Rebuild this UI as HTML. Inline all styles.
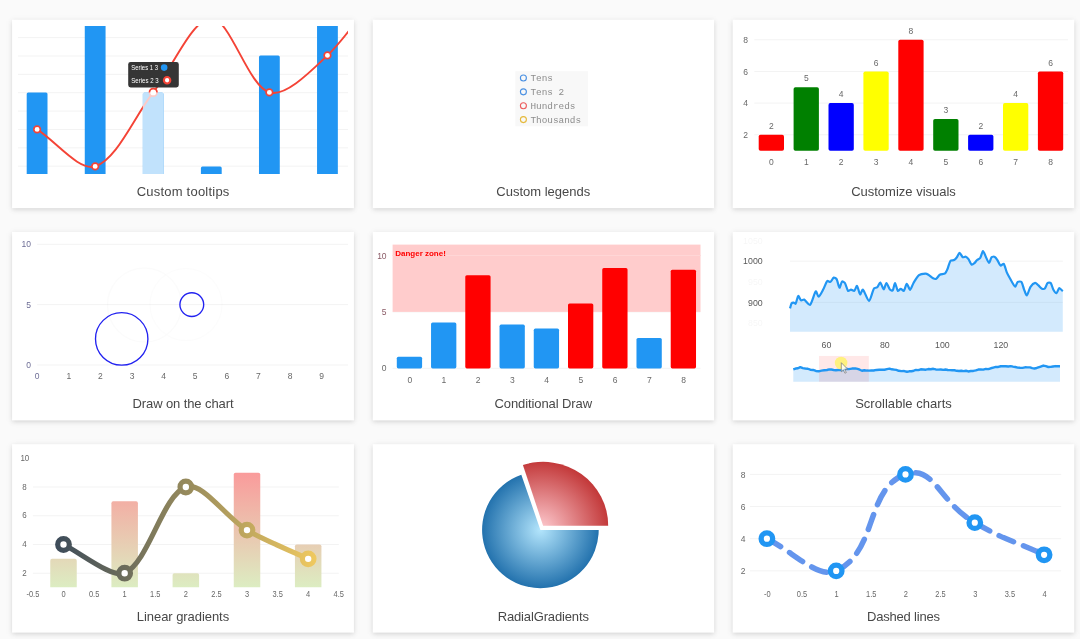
<!DOCTYPE html>
<html lang="en"><head><meta charset="utf-8"><title>Charts</title>
<style>
html,body{margin:0;padding:0}
body{width:1080px;height:639px;overflow:hidden;background:#fafafa;position:relative;font-family:"Liberation Sans",sans-serif}
svg{position:absolute;left:0;top:0;display:block;will-change:transform}
svg text{font-family:"Liberation Sans",sans-serif}
svg text.mono{font-family:"Liberation Mono",monospace}
</style></head><body>
<svg width="1080" height="639" viewBox="0 0 1080 639"><defs><filter id="sh" x="-5%" y="-10%" width="110%" height="125%"><feGaussianBlur stdDeviation="1.9"/></filter><filter id="sh2" x="-6%" y="-12%" width="112%" height="130%"><feGaussianBlur stdDeviation="3.6"/></filter><clipPath id="c1"><rect x="18" y="26" width="330" height="148"/></clipPath><linearGradient id="g7b" gradientUnits="userSpaceOnUse" x1="0" y1="452" x2="0" y2="587.6"><stop offset="0" stop-color="rgb(255,140,148)"/><stop offset="1" stop-color="rgb(220,237,194)"/></linearGradient><linearGradient id="g7l" gradientUnits="userSpaceOnUse" x1="32.9" y1="0" x2="338.8" y2="0"><stop offset="0" stop-color="rgb(45,64,89)"/><stop offset="1" stop-color="rgb(255,212,96)"/></linearGradient><radialGradient id="g8b" gradientUnits="userSpaceOnUse" cx="540.4" cy="529.9" r="72"><stop offset="0" stop-color="rgb(179,229,252)"/><stop offset="1" stop-color="rgb(1,87,155)"/></radialGradient><radialGradient id="g8r" gradientUnits="userSpaceOnUse" cx="540.4" cy="529.9" r="82"><stop offset="0" stop-color="rgb(255,205,210)"/><stop offset="1" stop-color="rgb(183,28,28)"/></radialGradient></defs>
<g><rect x="12.1" y="20.9" width="341.8" height="188.4" fill="#000" fill-opacity="0.05" filter="url(#sh2)"/>
<rect x="12.1" y="21.3" width="341.8" height="188.4" fill="#000" fill-opacity="0.105" filter="url(#sh)"/>
<rect x="12.1" y="19.7" width="341.8" height="188.4" fill="#fff"/>
<text class="t" x="183.11" y="196" text-anchor="middle" font-size="13" fill="#484848" letter-spacing="0.223">Custom tooltips</text>
<rect x="372.8" y="20.9" width="341.3" height="188.4" fill="#000" fill-opacity="0.05" filter="url(#sh2)"/>
<rect x="372.8" y="21.3" width="341.3" height="188.4" fill="#000" fill-opacity="0.105" filter="url(#sh)"/>
<rect x="372.8" y="19.7" width="341.3" height="188.4" fill="#fff"/>
<text class="t" x="543.3" y="196" text-anchor="middle" font-size="13" fill="#484848" letter-spacing="0.006">Custom legends</text>
<rect x="732.7" y="20.9" width="341.5" height="188.4" fill="#000" fill-opacity="0.05" filter="url(#sh2)"/>
<rect x="732.7" y="21.3" width="341.5" height="188.4" fill="#000" fill-opacity="0.105" filter="url(#sh)"/>
<rect x="732.7" y="19.7" width="341.5" height="188.4" fill="#fff"/>
<text class="t" x="903.5" y="196" text-anchor="middle" font-size="13" fill="#484848" letter-spacing="-0.003">Customize visuals</text>
<rect x="12.1" y="233.15" width="341.8" height="188.4" fill="#000" fill-opacity="0.05" filter="url(#sh2)"/>
<rect x="12.1" y="233.55" width="341.8" height="188.4" fill="#000" fill-opacity="0.105" filter="url(#sh)"/>
<rect x="12.1" y="231.95" width="341.8" height="188.4" fill="#fff"/>
<text class="t" x="182.95" y="408.1" text-anchor="middle" font-size="13" fill="#484848" letter-spacing="-0.099">Draw on the chart</text>
<rect x="372.8" y="233.15" width="341.3" height="188.4" fill="#000" fill-opacity="0.05" filter="url(#sh2)"/>
<rect x="372.8" y="233.55" width="341.3" height="188.4" fill="#000" fill-opacity="0.105" filter="url(#sh)"/>
<rect x="372.8" y="231.95" width="341.3" height="188.4" fill="#fff"/>
<text class="t" x="543.26" y="408.1" text-anchor="middle" font-size="13" fill="#484848" letter-spacing="-0.086">Conditional Draw</text>
<rect x="732.7" y="233.15" width="341.5" height="188.4" fill="#000" fill-opacity="0.05" filter="url(#sh2)"/>
<rect x="732.7" y="233.55" width="341.5" height="188.4" fill="#000" fill-opacity="0.105" filter="url(#sh)"/>
<rect x="732.7" y="231.95" width="341.5" height="188.4" fill="#fff"/>
<text class="t" x="903.52" y="408.1" text-anchor="middle" font-size="13" fill="#484848" letter-spacing="0.039">Scrollable charts</text>
<rect x="12.1" y="445.4" width="341.8" height="188.4" fill="#000" fill-opacity="0.05" filter="url(#sh2)"/>
<rect x="12.1" y="445.8" width="341.8" height="188.4" fill="#000" fill-opacity="0.105" filter="url(#sh)"/>
<rect x="12.1" y="444.2" width="341.8" height="188.4" fill="#fff"/>
<text class="t" x="182.97" y="621" text-anchor="middle" font-size="13" fill="#484848" letter-spacing="-0.061">Linear gradients</text>
<rect x="372.8" y="445.4" width="341.3" height="188.4" fill="#000" fill-opacity="0.05" filter="url(#sh2)"/>
<rect x="372.8" y="445.8" width="341.3" height="188.4" fill="#000" fill-opacity="0.105" filter="url(#sh)"/>
<rect x="372.8" y="444.2" width="341.3" height="188.4" fill="#fff"/>
<text class="t" x="543.23" y="621" text-anchor="middle" font-size="13" fill="#484848" letter-spacing="-0.136">RadialGradients</text>
<rect x="732.7" y="445.4" width="341.5" height="188.4" fill="#000" fill-opacity="0.05" filter="url(#sh2)"/>
<rect x="732.7" y="445.8" width="341.5" height="188.4" fill="#000" fill-opacity="0.105" filter="url(#sh)"/>
<rect x="732.7" y="444.2" width="341.5" height="188.4" fill="#fff"/>
<text class="t" x="903.4" y="621" text-anchor="middle" font-size="13" fill="#484848" letter-spacing="-0.195">Dashed lines</text></g>
<g><line x1="18" x2="348" y1="166.2" y2="166.2" stroke="#f3f3f3" stroke-width="1"/><line x1="18" x2="348" y1="147.83" y2="147.83" stroke="#f3f3f3" stroke-width="1"/><line x1="18" x2="348" y1="129.46" y2="129.46" stroke="#f3f3f3" stroke-width="1"/><line x1="18" x2="348" y1="111.09" y2="111.09" stroke="#f3f3f3" stroke-width="1"/><line x1="18" x2="348" y1="92.72" y2="92.72" stroke="#f3f3f3" stroke-width="1"/><line x1="18" x2="348" y1="74.35" y2="74.35" stroke="#f3f3f3" stroke-width="1"/><line x1="18" x2="348" y1="55.98" y2="55.98" stroke="#f3f3f3" stroke-width="1"/><line x1="18" x2="348" y1="37.61" y2="37.61" stroke="#f3f3f3" stroke-width="1"/><g clip-path="url(#c1)"><rect x="26.7" y="92.4" width="20.8" height="83.6" rx="1.5" fill="#2196f3" /><rect x="84.77" y="-55.6" width="20.8" height="231.6" rx="1.5" fill="#2196f3" /><rect x="142.84" y="92.4" width="20.8" height="83.6" rx="1.5" fill="#2196f3" /><rect x="200.91" y="166.4" width="20.8" height="9.6" rx="1.5" fill="#2196f3" /><rect x="258.98" y="55.4" width="20.8" height="120.6" rx="1.5" fill="#2196f3" /><rect x="317.05" y="-55.6" width="20.8" height="231.6" rx="1.5" fill="#2196f3" /><path d="M37.1 129.4C55.97 141.43 79.22 171.48 95.17 166.4C116.96 159.46 134.37 116.45 153.24 92.4C172.11 68.35 192.44 18.4 211.31 18.4C230.18 18.4 247.59 85.46 269.38 92.4C285.33 97.48 311.5 70.65 327.45 55.4C349.24 34.57 366.65 5.45 385.52 -18.6" fill="none" stroke="#f44336" stroke-width="1.9"/><circle cx="37.1" cy="129.4" r="3.3" fill="#fff" stroke="#f44336" stroke-width="1.7"/><circle cx="95.17" cy="166.4" r="3.3" fill="#fff" stroke="#f44336" stroke-width="1.7"/><circle cx="153.24" cy="92.4" r="3.8" fill="#fff" stroke="#f44336" stroke-width="1.7"/><circle cx="211.31" cy="18.4" r="3.3" fill="#fff" stroke="#f44336" stroke-width="1.7"/><circle cx="269.38" cy="92.4" r="3.3" fill="#fff" stroke="#f44336" stroke-width="1.7"/><circle cx="327.45" cy="55.4" r="3.3" fill="#fff" stroke="#f44336" stroke-width="1.7"/><circle cx="385.52" cy="-18.6" r="3.3" fill="#fff" stroke="#f44336" stroke-width="1.7"/><rect x="142.84" y="92.4" width="20.8" height="90" fill="#fff" fill-opacity="0.72"/></g><rect x="128.2" y="62" width="50.6" height="25.4" rx="2.4" fill="#353535"/><text x="131.3" y="70.1" font-size="6.7" fill="#fff" text-anchor="start" textLength="26.7" lengthAdjust="spacingAndGlyphs">Series 1 3</text><text x="131.3" y="82.9" font-size="6.7" fill="#fff" text-anchor="start" textLength="27.4" lengthAdjust="spacingAndGlyphs">Series 2 3</text><circle cx="164.15" cy="67.6" r="3.3" fill="#2196f3"/><circle cx="167.1" cy="80.25" r="3.2" fill="#fff" stroke="#f44336" stroke-width="2.1"/></g>
<g><rect x="515.3" y="71.2" width="72.7" height="55.1" fill="#f8f8f8"/><circle cx="523.4" cy="78" r="3" fill="none" stroke="#4a90e2" stroke-width="1.1"/><text x="530.4" y="81" class="mono" font-size="9.4" fill="#8c8c8c" xml:space="preserve">Tens</text><circle cx="523.4" cy="91.87" r="3" fill="none" stroke="#4a90e2" stroke-width="1.1"/><text x="530.4" y="94.87" class="mono" font-size="9.4" fill="#8c8c8c" xml:space="preserve">Tens 2</text><circle cx="523.4" cy="105.74" r="3" fill="none" stroke="#ec5b5b" stroke-width="1.1"/><text x="530.4" y="108.74" class="mono" font-size="9.4" fill="#8c8c8c" xml:space="preserve">Hundreds</text><circle cx="523.4" cy="119.61" r="3" fill="none" stroke="#e5b93a" stroke-width="1.1"/><text x="530.4" y="122.61" class="mono" font-size="9.4" fill="#8c8c8c" xml:space="preserve">Thousands</text></g>
<g><line x1="754.3" x2="1068" y1="39.8" y2="39.8" stroke="#f3f3f3" stroke-width="1"/><text x="745.7" y="42.9" font-size="8.5" fill="#686868" text-anchor="middle" >8</text><line x1="754.3" x2="1068" y1="71.46" y2="71.46" stroke="#f3f3f3" stroke-width="1"/><text x="745.7" y="74.56" font-size="8.5" fill="#686868" text-anchor="middle" >6</text><line x1="754.3" x2="1068" y1="103.12" y2="103.12" stroke="#f3f3f3" stroke-width="1"/><text x="745.7" y="106.22" font-size="8.5" fill="#686868" text-anchor="middle" >4</text><line x1="754.3" x2="1068" y1="134.78" y2="134.78" stroke="#f3f3f3" stroke-width="1"/><text x="745.7" y="137.88" font-size="8.5" fill="#686868" text-anchor="middle" >2</text><rect x="758.7" y="134.78" width="25.3" height="15.92" rx="1.8" fill="#ff0000" /><text x="771.35" y="128.98" font-size="8.5" fill="#686868" text-anchor="middle" >2</text><text x="771.35" y="165" font-size="8.5" fill="#686868" text-anchor="middle" >0</text><rect x="793.6" y="87.29" width="25.3" height="63.41" rx="1.8" fill="#008000" /><text x="806.25" y="81.49" font-size="8.5" fill="#686868" text-anchor="middle" >5</text><text x="806.25" y="165" font-size="8.5" fill="#686868" text-anchor="middle" >1</text><rect x="828.5" y="103.12" width="25.3" height="47.58" rx="1.8" fill="#0000ff" /><text x="841.15" y="97.32" font-size="8.5" fill="#686868" text-anchor="middle" >4</text><text x="841.15" y="165" font-size="8.5" fill="#686868" text-anchor="middle" >2</text><rect x="863.4" y="71.46" width="25.3" height="79.24" rx="1.8" fill="#ffff00" /><text x="876.05" y="65.66" font-size="8.5" fill="#686868" text-anchor="middle" >6</text><text x="876.05" y="165" font-size="8.5" fill="#686868" text-anchor="middle" >3</text><rect x="898.3" y="39.8" width="25.3" height="110.9" rx="1.8" fill="#ff0000" /><text x="910.95" y="34" font-size="8.5" fill="#686868" text-anchor="middle" >8</text><text x="910.95" y="165" font-size="8.5" fill="#686868" text-anchor="middle" >4</text><rect x="933.2" y="118.95" width="25.3" height="31.75" rx="1.8" fill="#008000" /><text x="945.85" y="113.15" font-size="8.5" fill="#686868" text-anchor="middle" >3</text><text x="945.85" y="165" font-size="8.5" fill="#686868" text-anchor="middle" >5</text><rect x="968.1" y="134.78" width="25.3" height="15.92" rx="1.8" fill="#0000ff" /><text x="980.75" y="128.98" font-size="8.5" fill="#686868" text-anchor="middle" >2</text><text x="980.75" y="165" font-size="8.5" fill="#686868" text-anchor="middle" >6</text><rect x="1003" y="103.12" width="25.3" height="47.58" rx="1.8" fill="#ffff00" /><text x="1015.65" y="97.32" font-size="8.5" fill="#686868" text-anchor="middle" >4</text><text x="1015.65" y="165" font-size="8.5" fill="#686868" text-anchor="middle" >7</text><rect x="1037.9" y="71.46" width="25.3" height="79.24" rx="1.8" fill="#ff0000" /><text x="1050.55" y="65.66" font-size="8.5" fill="#686868" text-anchor="middle" >6</text><text x="1050.55" y="165" font-size="8.5" fill="#686868" text-anchor="middle" >8</text></g>
<g><line x1="37.1" x2="348" y1="244.3" y2="244.3" stroke="#f3f3f3" stroke-width="1"/><text x="30.9" y="247.4" font-size="8.5" fill="#6e6e96" text-anchor="end" >10</text><line x1="37.1" x2="348" y1="304.65" y2="304.65" stroke="#f3f3f3" stroke-width="1"/><text x="30.9" y="307.75" font-size="8.5" fill="#6e6e96" text-anchor="end" >5</text><line x1="37.1" x2="348" y1="365" y2="365" stroke="#f3f3f3" stroke-width="1"/><text x="30.9" y="368.1" font-size="8.5" fill="#6e6e96" text-anchor="end" >0</text><text x="37.2" y="379.2" font-size="8.5" fill="#6e6e96" text-anchor="middle" >0</text><text x="68.8" y="379.2" font-size="8.5" fill="#686868" text-anchor="middle" >1</text><text x="100.4" y="379.2" font-size="8.5" fill="#686868" text-anchor="middle" >2</text><text x="132" y="379.2" font-size="8.5" fill="#686868" text-anchor="middle" >3</text><text x="163.6" y="379.2" font-size="8.5" fill="#686868" text-anchor="middle" >4</text><text x="195.2" y="379.2" font-size="8.5" fill="#686868" text-anchor="middle" >5</text><text x="226.8" y="379.2" font-size="8.5" fill="#686868" text-anchor="middle" >6</text><text x="258.4" y="379.2" font-size="8.5" fill="#686868" text-anchor="middle" >7</text><text x="290" y="379.2" font-size="8.5" fill="#686868" text-anchor="middle" >8</text><text x="321.6" y="379.2" font-size="8.5" fill="#686868" text-anchor="middle" >9</text><circle cx="144.5" cy="305" r="37" fill="none" stroke="#000" stroke-opacity="0.015" stroke-width="1.5"/><circle cx="186" cy="304.5" r="36" fill="none" stroke="#000" stroke-opacity="0.012" stroke-width="1.5"/><circle cx="121.7" cy="338.9" r="26.2" fill="none" stroke="#2222f0" stroke-width="1.35"/><circle cx="191.8" cy="304.6" r="11.9" fill="none" stroke="#2222f0" stroke-width="1.35"/></g>
<g><line x1="392.6" x2="700.5" y1="255.5" y2="255.5" stroke="#f3f3f3" stroke-width="1"/><line x1="392.6" x2="700.5" y1="311.9" y2="311.9" stroke="#f3f3f3" stroke-width="1"/><line x1="392.6" x2="700.5" y1="368.3" y2="368.3" stroke="#f3f3f3" stroke-width="1"/><rect x="392.6" y="244.6" width="307.9" height="67.3" fill="#ffcccc"/><line x1="392.6" x2="700.5" y1="255.5" y2="255.5" stroke="#ffd6d6" stroke-width="1"/><text x="386.6" y="258.6" font-size="8.5" fill="#8a5a66" text-anchor="end" >10</text><text x="386.6" y="315" font-size="8.5" fill="#8a5a66" text-anchor="end" >5</text><text x="386.6" y="371.4" font-size="8.5" fill="#686868" text-anchor="end" >0</text><rect x="396.8" y="356.7" width="25.3" height="11.7" rx="1.6" fill="#2196f3" /><text x="409.75" y="383" font-size="8.5" fill="#686868" text-anchor="middle" >0</text><rect x="431.04" y="322.5" width="25.3" height="45.9" rx="1.6" fill="#2196f3" /><text x="443.99" y="383" font-size="8.5" fill="#686868" text-anchor="middle" >1</text><rect x="465.28" y="275.2" width="25.3" height="93.2" rx="1.6" fill="#ff0000" /><text x="478.23" y="383" font-size="8.5" fill="#686868" text-anchor="middle" >2</text><rect x="499.52" y="324.6" width="25.3" height="43.8" rx="1.6" fill="#2196f3" /><text x="512.47" y="383" font-size="8.5" fill="#686868" text-anchor="middle" >3</text><rect x="533.76" y="328.6" width="25.3" height="39.8" rx="1.6" fill="#2196f3" /><text x="546.71" y="383" font-size="8.5" fill="#686868" text-anchor="middle" >4</text><rect x="568" y="303.4" width="25.3" height="65" rx="1.6" fill="#ff0000" /><text x="580.95" y="383" font-size="8.5" fill="#686868" text-anchor="middle" >5</text><rect x="602.24" y="268.1" width="25.3" height="100.3" rx="1.6" fill="#ff0000" /><text x="615.19" y="383" font-size="8.5" fill="#686868" text-anchor="middle" >6</text><rect x="636.48" y="337.9" width="25.3" height="30.5" rx="1.6" fill="#2196f3" /><text x="649.43" y="383" font-size="8.5" fill="#686868" text-anchor="middle" >7</text><rect x="670.72" y="269.7" width="25.3" height="98.7" rx="1.6" fill="#ff0000" /><text x="683.67" y="383" font-size="8.5" fill="#686868" text-anchor="middle" >8</text><text x="395.2" y="256.3" font-size="8" fill="#ff0000" text-anchor="start" font-weight="bold">Danger zone!</text></g>
<g><line x1="790" x2="1062.8" y1="261.2" y2="261.2" stroke="#f3f3f3" stroke-width="1"/><text x="762.7" y="264.4" font-size="8.8" fill="#585858" text-anchor="end" >1000</text><line x1="790" x2="1062.8" y1="302.3" y2="302.3" stroke="#f3f3f3" stroke-width="1"/><text x="762.7" y="305.5" font-size="8.8" fill="#585858" text-anchor="end" >900</text><text x="826.5" y="347.6" font-size="8.8" fill="#585858" text-anchor="middle" >60</text><text x="884.8" y="347.6" font-size="8.8" fill="#585858" text-anchor="middle" >80</text><text x="942.4" y="347.6" font-size="8.8" fill="#585858" text-anchor="middle" >100</text><text x="1000.9" y="347.6" font-size="8.8" fill="#585858" text-anchor="middle" >120</text><text x="762.7" y="243.9" font-size="8.8" fill="#000" text-anchor="end" fill-opacity="0.04">1050</text><text x="762.7" y="284.9" font-size="8.8" fill="#000" text-anchor="end" fill-opacity="0.04">950</text><text x="762.7" y="326" font-size="8.8" fill="#000" text-anchor="end" fill-opacity="0.04">850</text><path d="M790 308.4C790.4 307.15 790.96 304.43 791.6 303.4C791.86 302.98 793.11 302.56 793.6 302.6C794.11 302.64 795.34 304.06 795.6 303.7C796.52 302.41 797.46 296.52 798.3 296C798.83 295.67 800.19 299.74 801.1 300.3C801.64 300.64 803.48 299.28 804.1 299.6C805.7 300.43 808.98 305.62 810 304.9C811.9 303.55 814.28 292.75 815.8 291.3C816.43 290.7 817.83 296.9 818.6 296.7C819.71 296.4 822.24 291.21 823.3 289.3C824.41 287.29 825.99 282.37 827.3 281C827.76 280.52 829.8 282.22 830.4 281.9C831.42 281.37 832.82 278.04 833.8 277.6C834.37 277.34 836.23 278.45 836.6 279.1C837.66 280.97 838.71 287.36 839.5 287.7C840.09 287.96 841.18 282.3 842.1 281.5C842.53 281.12 844.49 282.36 844.9 283C845.99 284.71 846.99 289.7 848.1 290.9C848.51 291.35 850.27 289.6 851 289.6C851.79 289.6 853.64 291.25 854.2 290.9C855.14 290.32 856.42 285.57 857 285.9C857.9 286.42 859.18 293.73 860.1 294.3C860.66 294.65 862.24 289.1 862.9 289.6C864.46 290.78 867.64 301.16 869 301C870.44 300.83 872.44 291.07 874.1 288.3C874.49 287.64 876.64 287.83 877.2 287.3C878.16 286.4 879.5 282.39 880.2 282.6C881.15 282.89 882.98 289.25 883.8 289.3C884.53 289.35 885.66 282.96 886.4 283C887.21 283.04 888.85 288.25 890 289.6C890.43 290.1 892.37 290.84 892.7 290.4C893.62 289.19 894.38 282.94 895 283C895.68 283.07 896.89 289.88 897.9 290.9C898.32 291.33 899.99 288.8 900.7 288.8C901.46 288.8 903.3 291.31 903.8 290.9C904.83 290.06 905.97 283.95 906.8 283.8C907.54 283.67 909.31 289.89 910.1 289.8C910.98 289.69 912.51 284.62 913.5 283C914.74 280.97 917.25 276.6 919 275.2C920.2 274.25 923.74 273.68 925.3 273.6C926.09 273.56 927.7 274.28 928.4 274.7C929.65 275.46 931.83 277.63 933.1 278.3C933.78 278.66 935.59 279.13 936.2 278.8C937.26 278.23 938.69 275.37 939.8 274.7C940.91 274.02 944.1 274.14 945.1 273.4C946.02 272.72 947.01 270.15 947.5 269C948.36 267 949.34 262.38 950.5 260.8C950.99 260.13 953.32 260.42 954.1 260C954.87 259.59 956.16 258.21 956.7 257.5C957.53 256.41 958.84 252.84 959.6 252.8C960.34 252.76 961.72 256.58 962.7 257.2C963.27 257.56 965.13 256.48 965.8 256.7C966.58 256.95 967.97 258.38 968.5 259.1C969.42 260.36 970.61 263.91 971.6 264.6C972.09 264.94 973.81 263.69 974.4 263.2C975.19 262.54 976.33 260.69 977.1 260C977.78 259.39 979.72 258.74 980.2 258C981.19 256.49 982.24 251.1 983 251C983.69 250.9 985.22 255.67 986 257.2C986.74 258.67 988.39 263 989.1 263C989.79 263 990.66 258.21 991.6 257.2C992.08 256.69 994.16 256.58 994.8 256.9C995.61 257.31 996.83 259.24 997.4 260.1C998.28 261.42 999.59 265.01 1000.6 265.6C1001.17 265.93 1003.26 263.32 1003.7 263.8C1004.81 265.02 1005.9 270.3 1006.8 272.4C1007.45 273.93 1009.06 276.86 1009.9 278.3C1011.13 280.41 1013.83 286.02 1015.1 286.6C1015.8 286.92 1016.85 282.61 1017.8 281.9C1018.43 281.43 1020.91 281.32 1021.4 281.9C1022.46 283.17 1023.27 287.48 1024 289.3C1024.62 290.86 1026.12 295.66 1026.8 295.4C1027.75 295.04 1029.23 288.7 1030.5 286.8C1031.33 285.55 1034.01 283.01 1035.2 282.8C1036.01 282.66 1037.71 284.71 1038.5 285.4C1039.41 286.21 1041 288.31 1042 288.8C1042.58 289.08 1044.36 288.95 1044.8 288.5C1045.76 287.5 1046.62 283.92 1047.6 283C1048.09 282.54 1050.27 282.49 1050.7 283C1051.72 284.19 1052.51 288.23 1053.4 289.8C1053.96 290.78 1055.85 293.4 1056.5 293.2C1057.33 292.95 1058.43 288.26 1059.3 288C1060.01 287.79 1061.92 290.48 1062.8 291.3L1062.8 331.7L790 331.7Z" fill="#2196f3" fill-opacity="0.2"/><path d="M790 308.4C790.4 307.15 790.96 304.43 791.6 303.4C791.86 302.98 793.11 302.56 793.6 302.6C794.11 302.64 795.34 304.06 795.6 303.7C796.52 302.41 797.46 296.52 798.3 296C798.83 295.67 800.19 299.74 801.1 300.3C801.64 300.64 803.48 299.28 804.1 299.6C805.7 300.43 808.98 305.62 810 304.9C811.9 303.55 814.28 292.75 815.8 291.3C816.43 290.7 817.83 296.9 818.6 296.7C819.71 296.4 822.24 291.21 823.3 289.3C824.41 287.29 825.99 282.37 827.3 281C827.76 280.52 829.8 282.22 830.4 281.9C831.42 281.37 832.82 278.04 833.8 277.6C834.37 277.34 836.23 278.45 836.6 279.1C837.66 280.97 838.71 287.36 839.5 287.7C840.09 287.96 841.18 282.3 842.1 281.5C842.53 281.12 844.49 282.36 844.9 283C845.99 284.71 846.99 289.7 848.1 290.9C848.51 291.35 850.27 289.6 851 289.6C851.79 289.6 853.64 291.25 854.2 290.9C855.14 290.32 856.42 285.57 857 285.9C857.9 286.42 859.18 293.73 860.1 294.3C860.66 294.65 862.24 289.1 862.9 289.6C864.46 290.78 867.64 301.16 869 301C870.44 300.83 872.44 291.07 874.1 288.3C874.49 287.64 876.64 287.83 877.2 287.3C878.16 286.4 879.5 282.39 880.2 282.6C881.15 282.89 882.98 289.25 883.8 289.3C884.53 289.35 885.66 282.96 886.4 283C887.21 283.04 888.85 288.25 890 289.6C890.43 290.1 892.37 290.84 892.7 290.4C893.62 289.19 894.38 282.94 895 283C895.68 283.07 896.89 289.88 897.9 290.9C898.32 291.33 899.99 288.8 900.7 288.8C901.46 288.8 903.3 291.31 903.8 290.9C904.83 290.06 905.97 283.95 906.8 283.8C907.54 283.67 909.31 289.89 910.1 289.8C910.98 289.69 912.51 284.62 913.5 283C914.74 280.97 917.25 276.6 919 275.2C920.2 274.25 923.74 273.68 925.3 273.6C926.09 273.56 927.7 274.28 928.4 274.7C929.65 275.46 931.83 277.63 933.1 278.3C933.78 278.66 935.59 279.13 936.2 278.8C937.26 278.23 938.69 275.37 939.8 274.7C940.91 274.02 944.1 274.14 945.1 273.4C946.02 272.72 947.01 270.15 947.5 269C948.36 267 949.34 262.38 950.5 260.8C950.99 260.13 953.32 260.42 954.1 260C954.87 259.59 956.16 258.21 956.7 257.5C957.53 256.41 958.84 252.84 959.6 252.8C960.34 252.76 961.72 256.58 962.7 257.2C963.27 257.56 965.13 256.48 965.8 256.7C966.58 256.95 967.97 258.38 968.5 259.1C969.42 260.36 970.61 263.91 971.6 264.6C972.09 264.94 973.81 263.69 974.4 263.2C975.19 262.54 976.33 260.69 977.1 260C977.78 259.39 979.72 258.74 980.2 258C981.19 256.49 982.24 251.1 983 251C983.69 250.9 985.22 255.67 986 257.2C986.74 258.67 988.39 263 989.1 263C989.79 263 990.66 258.21 991.6 257.2C992.08 256.69 994.16 256.58 994.8 256.9C995.61 257.31 996.83 259.24 997.4 260.1C998.28 261.42 999.59 265.01 1000.6 265.6C1001.17 265.93 1003.26 263.32 1003.7 263.8C1004.81 265.02 1005.9 270.3 1006.8 272.4C1007.45 273.93 1009.06 276.86 1009.9 278.3C1011.13 280.41 1013.83 286.02 1015.1 286.6C1015.8 286.92 1016.85 282.61 1017.8 281.9C1018.43 281.43 1020.91 281.32 1021.4 281.9C1022.46 283.17 1023.27 287.48 1024 289.3C1024.62 290.86 1026.12 295.66 1026.8 295.4C1027.75 295.04 1029.23 288.7 1030.5 286.8C1031.33 285.55 1034.01 283.01 1035.2 282.8C1036.01 282.66 1037.71 284.71 1038.5 285.4C1039.41 286.21 1041 288.31 1042 288.8C1042.58 289.08 1044.36 288.95 1044.8 288.5C1045.76 287.5 1046.62 283.92 1047.6 283C1048.09 282.54 1050.27 282.49 1050.7 283C1051.72 284.19 1052.51 288.23 1053.4 289.8C1053.96 290.78 1055.85 293.4 1056.5 293.2C1057.33 292.95 1058.43 288.26 1059.3 288C1060.01 287.79 1061.92 290.48 1062.8 291.3" fill="none" stroke="#2196f3" stroke-width="2.2" stroke-linejoin="round"/><path d="M793.3 369.34L795.63 368.52L797.97 368.3L800.3 367.12L802.8 368.08L805.3 368.48L807.8 368.75L810.3 369.71L813.1 369.95L815.9 370.97L818.7 371.31L821.47 370.66L824.23 370.3L827 369.99L829.22 369.41L831.43 369.55L833.65 369.96L835.87 370.3L838.08 370.02L840.3 369.91L843.1 370.03L845.9 368.79L848.7 369.12L852 368.56L855.3 368.38L857.53 368.96L859.77 369.73L862 370.78L864.34 370.21L866.68 370.57L869.02 370.63L871.36 370.39L873.7 370.54L876.47 369.94L879.23 369.77L882 369.74L884.5 369.76L887 369.13L889.5 368.63L891.8 369.3L894.1 369.61L896.4 369.89L898.7 370.76L901.47 371.08L904.23 371.07L907 371.77L909.26 371.32L911.52 371.24L913.78 370.71L916.04 369.91L918.3 370.13L920.8 369.27L923.3 369.46L925.8 369.68L928.3 369.05L930.8 369.27L933.3 368.79L935.8 369.43L938.3 369.59L940.8 369.49L943.3 369.84L945.53 369.5L947.77 370.01L950 370.08L952.23 370.24L954.47 370.29L956.7 370.81L959.02 371.06L961.34 370.8L963.66 371.13L965.98 370.74L968.3 371.48L970.8 371.03L973.3 370.94L975.8 370.39L978.3 369.51L980.8 369.47L983.3 369.6L985.8 368.9L988.3 369.17L990.8 368.28L993.3 367.61L995.8 366.93L998.3 366.94L1000.8 366.24L1003.3 366.22L1005.8 366.23L1008.3 366.53L1010.64 366.08L1012.98 366.67L1015.32 367.02L1017.66 367.59L1020 367.79L1022.5 367.83L1025 367.3L1027.5 367.42L1030 367.37L1032.23 368.11L1034.47 368.45L1036.7 367.99L1040 366.76L1043.3 365.56L1045.8 366.16L1048.3 366.99L1050.64 366.92L1052.98 366.47L1055.32 366.07L1057.66 366.29L1060 366.2L1060 381.7L793.3 381.7Z" fill="#2196f3" fill-opacity="0.2"/><rect x="819" y="355.95" width="49.85" height="25.8" fill="#ff0000" fill-opacity="0.09"/><path d="M793.3 369.34L795.63 368.52L797.97 368.3L800.3 367.12L802.8 368.08L805.3 368.48L807.8 368.75L810.3 369.71L813.1 369.95L815.9 370.97L818.7 371.31L821.47 370.66L824.23 370.3L827 369.99L829.22 369.41L831.43 369.55L833.65 369.96L835.87 370.3L838.08 370.02L840.3 369.91L843.1 370.03L845.9 368.79L848.7 369.12L852 368.56L855.3 368.38L857.53 368.96L859.77 369.73L862 370.78L864.34 370.21L866.68 370.57L869.02 370.63L871.36 370.39L873.7 370.54L876.47 369.94L879.23 369.77L882 369.74L884.5 369.76L887 369.13L889.5 368.63L891.8 369.3L894.1 369.61L896.4 369.89L898.7 370.76L901.47 371.08L904.23 371.07L907 371.77L909.26 371.32L911.52 371.24L913.78 370.71L916.04 369.91L918.3 370.13L920.8 369.27L923.3 369.46L925.8 369.68L928.3 369.05L930.8 369.27L933.3 368.79L935.8 369.43L938.3 369.59L940.8 369.49L943.3 369.84L945.53 369.5L947.77 370.01L950 370.08L952.23 370.24L954.47 370.29L956.7 370.81L959.02 371.06L961.34 370.8L963.66 371.13L965.98 370.74L968.3 371.48L970.8 371.03L973.3 370.94L975.8 370.39L978.3 369.51L980.8 369.47L983.3 369.6L985.8 368.9L988.3 369.17L990.8 368.28L993.3 367.61L995.8 366.93L998.3 366.94L1000.8 366.24L1003.3 366.22L1005.8 366.23L1008.3 366.53L1010.64 366.08L1012.98 366.67L1015.32 367.02L1017.66 367.59L1020 367.79L1022.5 367.83L1025 367.3L1027.5 367.42L1030 367.37L1032.23 368.11L1034.47 368.45L1036.7 367.99L1040 366.76L1043.3 365.56L1045.8 366.16L1048.3 366.99L1050.64 366.92L1052.98 366.47L1055.32 366.07L1057.66 366.29L1060 366.2" fill="none" stroke="#2196f3" stroke-width="2.4" stroke-linejoin="round"/><circle cx="841.1" cy="362.95" r="6.3" fill="#fff07a" fill-opacity="0.96"/><path d="M841.3 362.7v9.1l2.1-1.9 1.5 3.3 1.4-.6-1.5-3.3h2.9z" fill="#fff" fill-opacity="0.8" stroke="#777" stroke-width="0.7" stroke-linejoin="round"/></g>
<g><line x1="32.9" x2="338.8" y1="487" y2="487" stroke="#f3f3f3" stroke-width="1"/><line x1="32.9" x2="338.8" y1="515.74" y2="515.74" stroke="#f3f3f3" stroke-width="1"/><line x1="32.9" x2="338.8" y1="544.48" y2="544.48" stroke="#f3f3f3" stroke-width="1"/><line x1="32.9" x2="338.8" y1="573.22" y2="573.22" stroke="#f3f3f3" stroke-width="1"/><text transform="translate(29.3 460.96) scale(0.93 1)" font-size="8.6" fill="#686868" text-anchor="end">10</text><text transform="translate(26.7 489.7) scale(0.93 1)" font-size="8.6" fill="#686868" text-anchor="end">8</text><text transform="translate(26.7 518.44) scale(0.93 1)" font-size="8.6" fill="#686868" text-anchor="end">6</text><text transform="translate(26.7 547.18) scale(0.93 1)" font-size="8.6" fill="#686868" text-anchor="end">4</text><text transform="translate(26.7 575.92) scale(0.93 1)" font-size="8.6" fill="#686868" text-anchor="end">2</text><path d="M50.25 587.3V560.65Q50.25 558.85 52.05 558.85H74.95Q76.75 558.85 76.75 560.65V587.3Z" fill="url(#g7b)" /><path d="M111.42 587.3V503.17Q111.42 501.37 113.22 501.37H136.12Q137.92 501.37 137.92 503.17V587.3Z" fill="url(#g7b)" /><path d="M172.59 587.3V575.02Q172.59 573.22 174.39 573.22H197.29Q199.09 573.22 199.09 575.02V587.3Z" fill="url(#g7b)" /><path d="M233.76 587.3V474.43Q233.76 472.63 235.56 472.63H258.46Q260.26 472.63 260.26 474.43V587.3Z" fill="url(#g7b)" /><path d="M294.93 587.3V546.28Q294.93 544.48 296.73 544.48H319.63Q321.43 544.48 321.43 546.28V587.3Z" fill="url(#g7b)" /><text transform="translate(32.91 597.3) scale(0.88 1)" font-size="8.5" fill="#686868" text-anchor="middle">-0.5</text><text transform="translate(63.5 597.3) scale(0.88 1)" font-size="8.5" fill="#686868" text-anchor="middle">0</text><text transform="translate(94.09 597.3) scale(0.88 1)" font-size="8.5" fill="#686868" text-anchor="middle">0.5</text><text transform="translate(124.67 597.3) scale(0.88 1)" font-size="8.5" fill="#686868" text-anchor="middle">1</text><text transform="translate(155.25 597.3) scale(0.88 1)" font-size="8.5" fill="#686868" text-anchor="middle">1.5</text><text transform="translate(185.84 597.3) scale(0.88 1)" font-size="8.5" fill="#686868" text-anchor="middle">2</text><text transform="translate(216.43 597.3) scale(0.88 1)" font-size="8.5" fill="#686868" text-anchor="middle">2.5</text><text transform="translate(247.01 597.3) scale(0.88 1)" font-size="8.5" fill="#686868" text-anchor="middle">3</text><text transform="translate(277.6 597.3) scale(0.88 1)" font-size="8.5" fill="#686868" text-anchor="middle">3.5</text><text transform="translate(308.18 597.3) scale(0.88 1)" font-size="8.5" fill="#686868" text-anchor="middle">4</text><text transform="translate(338.76 597.3) scale(0.88 1)" font-size="8.5" fill="#686868" text-anchor="middle">4.5</text><path d="M63.5 544.48C78.79 551.66 112.74 578.82 124.67 573.22C148.92 561.82 162.56 495.2 185.84 487C202.32 481.19 226.12 517.84 247.01 530.11C265.88 541.19 288.3 549.51 308.18 558.85" fill="none" stroke="url(#g7l)" stroke-width="5.1"/><circle cx="63.5" cy="544.48" r="5.8" fill="#fff" stroke="url(#g7l)" stroke-width="5.2"/><circle cx="124.67" cy="573.22" r="5.8" fill="#fff" stroke="url(#g7l)" stroke-width="5.2"/><circle cx="185.84" cy="487" r="5.8" fill="#fff" stroke="url(#g7l)" stroke-width="5.2"/><circle cx="247.01" cy="530.11" r="5.8" fill="#fff" stroke="url(#g7l)" stroke-width="5.2"/><circle cx="308.18" cy="558.85" r="5.8" fill="#fff" stroke="url(#g7l)" stroke-width="5.2"/></g>
<g><path d="M540.4 529.9L598.7 529.9A58.3 58.3 0 1 1 521.32 474.81Z" fill="url(#g8b)"/><path d="M543.1 525.8L522.9 465A65.1 63.8 0 0 1 608.2 525.8Z" fill="url(#g8r)"/></g>
<g><line x1="749.9" x2="1061.2" y1="474.4" y2="474.4" stroke="#f3f3f3" stroke-width="1"/><text x="743.1" y="477.5" font-size="8.5" fill="#686868" text-anchor="middle" >8</text><line x1="749.9" x2="1061.2" y1="506.56" y2="506.56" stroke="#f3f3f3" stroke-width="1"/><text x="743.1" y="509.66" font-size="8.5" fill="#686868" text-anchor="middle" >6</text><line x1="749.9" x2="1061.2" y1="538.72" y2="538.72" stroke="#f3f3f3" stroke-width="1"/><text x="743.1" y="541.82" font-size="8.5" fill="#686868" text-anchor="middle" >4</text><line x1="749.9" x2="1061.2" y1="570.88" y2="570.88" stroke="#f3f3f3" stroke-width="1"/><text x="743.1" y="573.98" font-size="8.5" fill="#686868" text-anchor="middle" >2</text><text transform="translate(767.3 597.3) scale(0.88 1)" font-size="8.5" fill="#686868" text-anchor="middle">-0</text><text transform="translate(801.95 597.3) scale(0.88 1)" font-size="8.5" fill="#686868" text-anchor="middle">0.5</text><text transform="translate(836.6 597.3) scale(0.88 1)" font-size="8.5" fill="#686868" text-anchor="middle">1</text><text transform="translate(871.25 597.3) scale(0.88 1)" font-size="8.5" fill="#686868" text-anchor="middle">1.5</text><text transform="translate(905.9 597.3) scale(0.88 1)" font-size="8.5" fill="#686868" text-anchor="middle">2</text><text transform="translate(940.55 597.3) scale(0.88 1)" font-size="8.5" fill="#686868" text-anchor="middle">2.5</text><text transform="translate(975.2 597.3) scale(0.88 1)" font-size="8.5" fill="#686868" text-anchor="middle">3</text><text transform="translate(1009.85 597.3) scale(0.88 1)" font-size="8.5" fill="#686868" text-anchor="middle">3.5</text><text transform="translate(1044.5 597.3) scale(0.88 1)" font-size="8.5" fill="#686868" text-anchor="middle">4</text><path d="M766.9 538.72C790.46 549.65 817.76 579.44 836.2 570.88C878.38 551.31 864.99 488.5 905.5 474.4C934.29 464.38 938.42 501.54 974.8 522.64C1007.72 541.74 1009.45 538.72 1044.1 554.8" fill="none" stroke="#6495ed" stroke-width="5.5" stroke-linecap="round" stroke-dasharray="15.9 10.6"/><circle cx="766.9" cy="538.72" r="5.75" fill="#fff" stroke="#2196f3" stroke-width="5.3"/><circle cx="836.2" cy="570.88" r="5.75" fill="#fff" stroke="#2196f3" stroke-width="5.3"/><circle cx="905.5" cy="474.4" r="5.75" fill="#fff" stroke="#2196f3" stroke-width="5.3"/><circle cx="974.8" cy="522.64" r="5.75" fill="#fff" stroke="#2196f3" stroke-width="5.3"/><circle cx="1044.1" cy="554.8" r="5.75" fill="#fff" stroke="#2196f3" stroke-width="5.3"/></g>
</svg>
</body></html>
